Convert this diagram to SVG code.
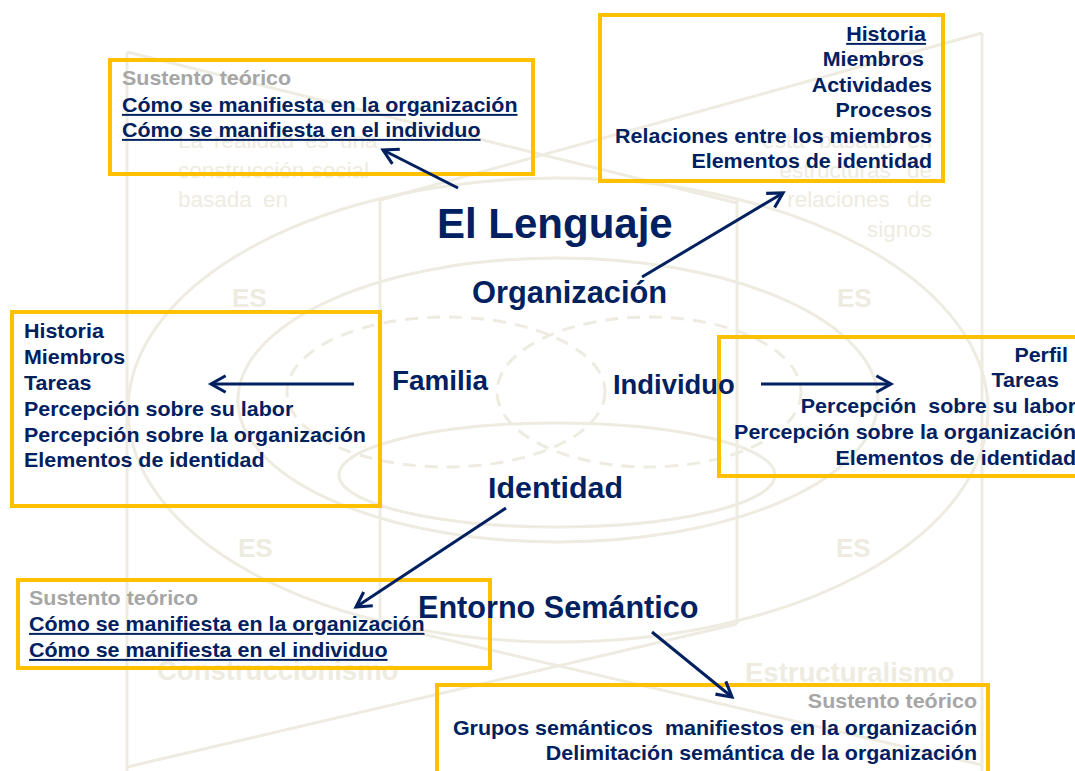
<svg xmlns="http://www.w3.org/2000/svg" width="1075" height="771" viewBox="0 0 1075 771">
<style>
.bgl{fill:none;stroke:#EEEBE1;stroke-width:3}
.bgd{fill:none;stroke:#EEEBE1;stroke-width:3;stroke-dasharray:13 9}
.bgt{font-family:"Liberation Sans",Arial,sans-serif;font-size:22.5px;fill:#EEEBE1}
.es{font-family:"Liberation Sans",Arial,sans-serif;font-size:26px;font-weight:bold;fill:#EEEBE1}
.big{font-family:"Liberation Sans",Arial,sans-serif;font-size:27.5px;font-weight:bold;fill:#EEEBE1}
.box{fill:none;stroke:#FFC000;stroke-width:4}
.t{font-family:"Liberation Sans",Arial,sans-serif;font-size:19.5px;font-weight:bold;fill:#002060}
.g{fill:#A6A6A6}
.u{text-decoration:underline}
.lab{font-family:"Liberation Sans",Arial,sans-serif;font-weight:bold;fill:#002060}
.con{stroke:#002060;stroke-width:3;fill:none;marker-end:url(#ah)}
</style>
<defs>
<marker id="ah" viewBox="0 0 12 12" refX="10" refY="6" markerWidth="22" markerHeight="22" markerUnits="userSpaceOnUse" orient="auto">
<path d="M2,1.5 L10,6 L2,10.5" fill="none" stroke="#002060" stroke-width="1.7"/>
</marker>
</defs>
<rect width="1075" height="771" fill="#FFFFFF"/>
<g id="background">
<line class="bgl" x1="127" y1="52" x2="127" y2="771"/>
<line class="bgl" x1="982" y1="33" x2="982" y2="771"/>
<line class="bgl" x1="380" y1="198" x2="380" y2="625"/>
<line class="bgl" x1="737" y1="198" x2="737" y2="624"/>
<line class="bgl" x1="127" y1="52" x2="737" y2="203"/>
<line class="bgl" x1="982" y1="33" x2="380" y2="200"/>
<line class="bgl" x1="380" y1="624" x2="982" y2="765"/>
<line class="bgl" x1="737" y1="624" x2="127" y2="767"/>
<ellipse class="bgl" cx="558" cy="410" rx="430" ry="232"/>
<ellipse class="bgl" cx="558" cy="400" rx="320" ry="142"/>
<ellipse class="bgl" cx="557" cy="475" rx="218" ry="52"/>
<ellipse class="bgd" cx="446" cy="392" rx="159" ry="75"/>
<ellipse class="bgd" cx="649" cy="392" rx="152" ry="75"/>
<text class="bgt" x="178" y="148" word-spacing="4.8">La realidad es una</text>
<text class="bgt" x="178" y="178" word-spacing="1">construcción social</text>
<text class="bgt" x="178" y="207" word-spacing="5">basada en</text>
<text class="bgt" x="932" y="148" text-anchor="end" word-spacing="8">está basado en</text>
<text class="bgt" x="932" y="178" text-anchor="end" word-spacing="10">estructuras de</text>
<text class="bgt" x="932" y="207" text-anchor="end" word-spacing="11">relaciones de</text>
<text class="bgt" x="932" y="237" text-anchor="end">signos</text>
<text class="es" x="232" y="307">ES</text>
<text class="es" x="837" y="307">ES</text>
<text class="es" x="238" y="557">ES</text>
<text class="es" x="836" y="557">ES</text>
<text class="big" x="157" y="680">Construccionismo</text>
<text class="big" x="745" y="682">Estructuralismo</text>
</g>
<g id="box-sustento-top">
<rect class="box" x="110" y="60" width="423" height="114"/>
<text class="t g" transform="matrix(1.1 0 0 1 122 85)">Sustento teórico</text>
<text class="t u" transform="matrix(1.1 0 0 1 122 112)">Cómo se manifiesta en la organización</text>
<text class="t u" transform="matrix(1.1 0 0 1 122 137)">Cómo se manifiesta en el individuo</text>
</g>
<g id="box-organizacion">
<rect class="box" x="600" y="15" width="343" height="166"/>
<text class="t u" text-anchor="end" transform="matrix(1.1 0 0 1 926 41)">Historia</text>
<text class="t" text-anchor="end" transform="matrix(1.1 0 0 1 924 66)">Miembros</text>
<text class="t" text-anchor="end" transform="matrix(1.1 0 0 1 932 92)">Actividades</text>
<text class="t" text-anchor="end" transform="matrix(1.1 0 0 1 932 117)">Procesos</text>
<text class="t" text-anchor="end" transform="matrix(1.1 0 0 1 932 143)">Relaciones entre los miembros</text>
<text class="t" text-anchor="end" transform="matrix(1.1 0 0 1 932 168)">Elementos de identidad</text>
</g>
<g id="box-familia">
<rect class="box" x="12" y="312" width="368" height="194"/>
<text class="t" transform="matrix(1.1 0 0 1 24 338)">Historia</text>
<text class="t" transform="matrix(1.1 0 0 1 24 364)">Miembros</text>
<text class="t" transform="matrix(1.1 0 0 1 24 390)">Tareas</text>
<text class="t" transform="matrix(1.1 0 0 1 24 416)">Percepción sobre su labor</text>
<text class="t" transform="matrix(1.1 0 0 1 24 442)">Percepción sobre la organización</text>
<text class="t" transform="matrix(1.1 0 0 1 24 467)">Elementos de identidad</text>
</g>
<g id="box-individuo">
<rect class="box" x="719" y="337" width="400" height="139"/>
<text class="t" text-anchor="end" transform="matrix(1.1 0 0 1 1068 362)">Perfil</text>
<text class="t" text-anchor="end" transform="matrix(1.1 0 0 1 1059 387)">Tareas</text>
<text class="t" text-anchor="end" xml:space="preserve" transform="matrix(1.1 0 0 1 1076 413)">Percepción  sobre su labor</text>
<text class="t" text-anchor="end" transform="matrix(1.1 0 0 1 1076 439)">Percepción sobre la organización</text>
<text class="t" text-anchor="end" transform="matrix(1.1 0 0 1 1076 465)">Elementos de identidad</text>
</g>
<g id="box-identidad">
<rect class="box" x="18" y="580" width="472" height="88"/>
<text class="t g" transform="matrix(1.1 0 0 1 29 605)">Sustento teórico</text>
<text class="t u" transform="matrix(1.1 0 0 1 29 631)">Cómo se manifiesta en la organización</text>
<text class="t u" transform="matrix(1.1 0 0 1 29 657)">Cómo se manifiesta en el individuo</text>
</g>
<g id="box-entorno">
<rect class="box" x="437" y="685" width="551" height="100"/>
<text class="t g" text-anchor="end" transform="matrix(1.1 0 0 1 977 708)">Sustento teórico</text>
<text class="t" text-anchor="end" xml:space="preserve" transform="matrix(1.1 0 0 1 977 735)">Grupos semánticos  manifiestos en la organización</text>
<text class="t" text-anchor="end" transform="matrix(1.1 0 0 1 977 760)">Delimitación semántica de la organización</text>
</g>
<g id="lenguaje"><text class="lab" x="437" y="238" font-size="42">El Lenguaje</text></g>
<g id="organizacion"><text class="lab" x="472" y="303" font-size="30.8">Organización</text></g>
<g id="familia"><text class="lab" x="392" y="390" font-size="27.9">Familia</text></g>
<g id="individuo"><text class="lab" x="613" y="394" font-size="27.4">Individuo</text></g>
<g id="identidad"><text class="lab" x="488" y="498" font-size="30.4">Identidad</text></g>
<g id="entorno"><text class="lab" x="418" y="618" font-size="30.6">Entorno Semántico</text></g>
<g id="connectors">
<line class="con" x1="458" y1="188" x2="383" y2="150"/>
<line class="con" x1="642" y1="277" x2="783" y2="193"/>
<line class="con" x1="354" y1="384" x2="211" y2="384"/>
<line class="con" x1="761" y1="384" x2="891" y2="384"/>
<line class="con" x1="506" y1="508" x2="356" y2="607"/>
<line class="con" x1="652" y1="632" x2="732" y2="697"/>
</g>
</svg>
